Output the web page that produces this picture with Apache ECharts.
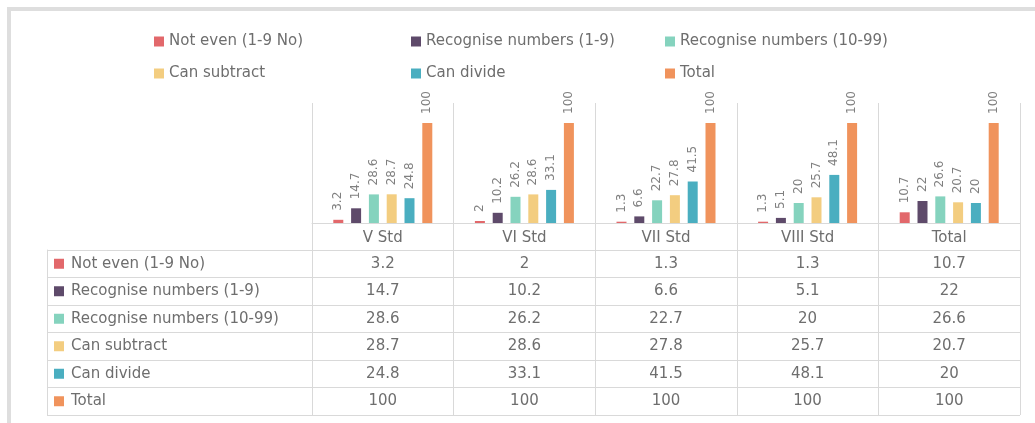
<!DOCTYPE html>
<html>
<head>
<meta charset="utf-8">
<script src="https://cdn.jsdelivr.net/npm/echarts@6/dist/echarts.min.js"></script>
<style>
html, body { margin: 0; padding: 0; background: #fff; }
#frame { position: absolute; left: 7px; top: 7px; width: 1100px; height: 500px;
  border-left: 4px solid #dedede; border-top: 4px solid #dedede; }
#chart { position: absolute; left: 0; top: 0; width: 1035px; height: 423px; }
</style>
</head>
<body>
<div id="frame"></div>
<div id="chart"></div>
<script>
// data
var categories = ['V Std', 'VI Std', 'VII Std', 'VIII Std', 'Total'];
var seriesNames = ['Not even (1-9 No)', 'Recognise numbers (1-9)', 'Recognise numbers (10-99)',
  'Can subtract', 'Can divide', 'Total'];
var notEven = [3.2, 2, 1.3, 1.3, 10.7];
var recog19 = [14.7, 10.2, 6.6, 5.1, 22];
var recog1099 = [28.6, 26.2, 22.7, 20, 26.6];
var canSubtract = [28.7, 28.6, 27.8, 25.7, 20.7];
var canDivide = [24.8, 33.1, 41.5, 48.1, 20];
var total = [100, 100, 100, 100, 100];
var seriesValues = [notEven, recog19, recog1099, canSubtract, canDivide, total];

var colors = ['#e2686b', '#5e4a6a', '#85d3be', '#f3cd80', '#4aaec0', '#f0935c'];
var gridColor = '#d9d9d9';
var textColor = '#6e6e6e';
var font = 'DejaVu Sans';
// legend slots, two rows of three
var legendSpots = [[149, 29], [406, 29], [660, 29], [149, 61], [406, 61], [660, 61]];

var chart = echarts.init(document.getElementById('chart'));

var legends = seriesNames.map(function (name, i) {
	return {
		data: [name],
		left: legendSpots[i][0],
		top: legendSpots[i][1],
		icon: 'rect',
		itemWidth: 10,
		itemHeight: 10,
		itemGap: 6,
		selectedMode: false,
		textStyle: { color: textColor, fontSize: 15, fontFamily: font }
	};
});

var barSeries = seriesNames.map(function (name, i) {
	return {
		name: name,
		type: 'bar',
		xAxisIndex: 0,
		yAxisIndex: 0,
		barWidth: 10,
		barGap: '78%',
		itemStyle: { color: colors[i] },
		label: {
			show: true,
			position: 'top',
			rotate: 90,
			align: 'left',
			verticalAlign: 'middle',
			distance: 9,
			color: '#808080',
			fontSize: 12,
			fontFamily: font
		},
		data: seriesValues[i]
	};
});

// table cells: one point per (column,row)
var cells = [];
for (var r = 0; r < seriesNames.length; r++) {
	for (var c = 0; c < categories.length; c++) {
		cells.push([c, r, seriesValues[r][c]]);
	}
}

var rich = {};
colors.forEach(function (col, i) {
	rich['k' + i] = { backgroundColor: col, width: 10, height: 10 };
});
rich.t = { color: textColor, fontSize: 15, fontFamily: font, padding: [0, 0, 0, 7] };

var option = {
	animation: false,
	legend: legends,
	grid: [
		{ left: 312, right: 15, top: 103, bottom: 200 },
		{ left: 312, right: 15, top: 250, bottom: 8 }
	],
	xAxis: [
		{
			type: 'category',
			gridIndex: 0,
			data: categories,
			axisLine: { show: true, lineStyle: { color: gridColor } },
			axisTick: { show: true, length: 27, lineStyle: { color: gridColor } },
			axisLabel: { color: textColor, fontSize: 15, fontFamily: font, margin: 8 },
			splitLine: { show: true, lineStyle: { color: gridColor } }
		},
		{
			type: 'category',
			gridIndex: 1,
			data: categories,
			axisLine: { show: false },
			axisTick: { show: false },
			axisLabel: { show: false },
			splitLine: { show: true, lineStyle: { color: gridColor } }
		}
	],
	yAxis: [
		{ type: 'value', gridIndex: 0, min: 0, max: 120, show: false },
		{
			type: 'category',
			gridIndex: 1,
			data: seriesNames,
			inverse: true,
			axisLine: { show: false },
			axisTick: { show: true, length: 265, lineStyle: { color: gridColor } },
			axisLabel: {
				margin: 258,
				align: 'left',
				formatter: function (v, i) { return '{k' + i + '|}{t|' + v + '}'; },
				rich: rich
			},
			splitLine: { show: true, lineStyle: { color: gridColor } }
		},
		{
			type: 'category',
			gridIndex: 1,
			data: seriesNames,
			inverse: true,
			position: 'left',
			offset: 265,
			axisLine: { show: true, lineStyle: { color: gridColor } },
			axisTick: { show: false },
			axisLabel: { show: false }
		}
	],
	series: barSeries.concat([{
		name: 'table',
		type: 'scatter',
		xAxisIndex: 1,
		yAxisIndex: 1,
		symbolSize: 0,
		itemStyle: { color: 'rgba(0,0,0,0)' },
		label: {
			show: true,
			position: 'inside',
			color: textColor,
			opacity: 1,
			fontSize: 15,
			fontFamily: font,
			formatter: function (p) { return p.value[2]; }
		},
		data: cells
	}])
};

chart.setOption(option);
</script>
</body>
</html>
